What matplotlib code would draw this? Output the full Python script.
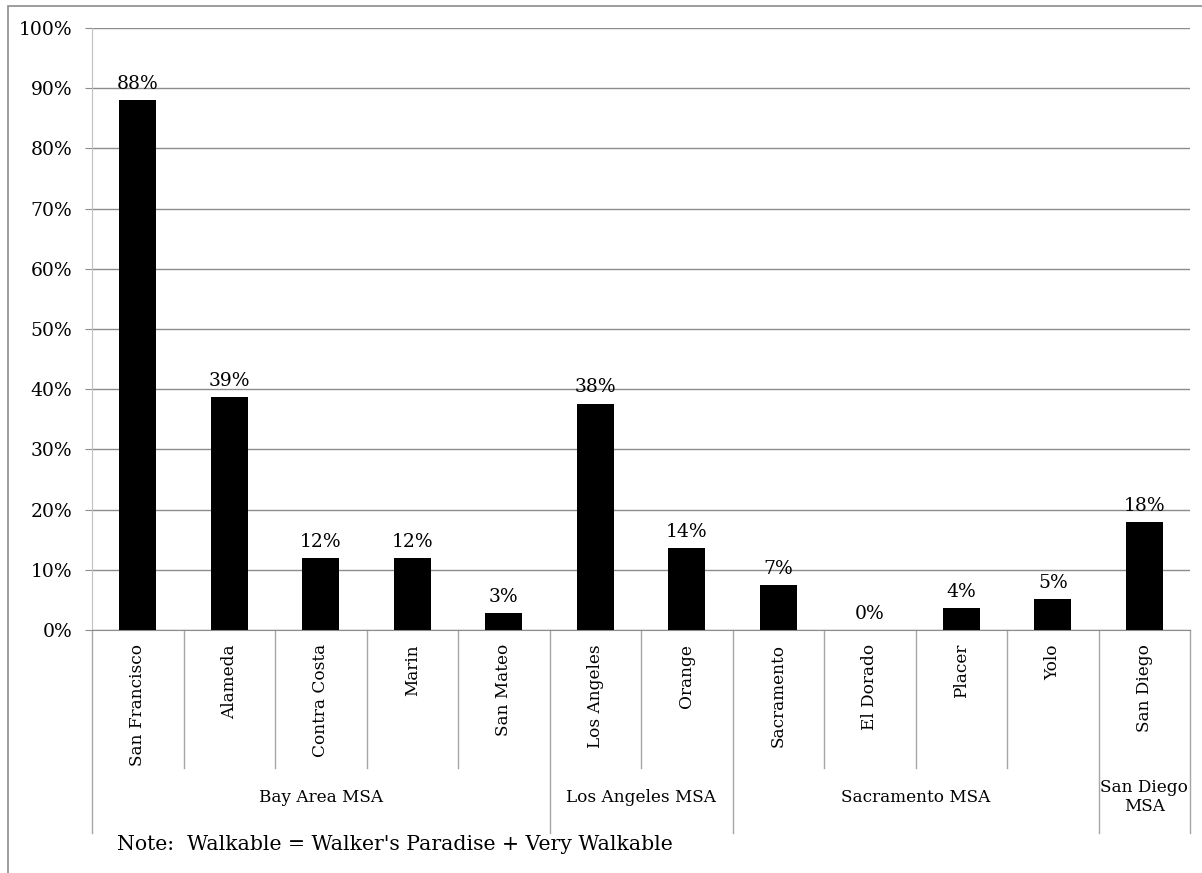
import numpy as np
import matplotlib
matplotlib.use('Agg')
import matplotlib.pyplot as plt
from matplotlib.patches import Rectangle

# 数据
counties = ['San Francisco', 'Alameda', 'Contra Costa', 'Marin', 'San Mateo',
            'Los Angeles', 'Orange', 'Sacramento', 'El Dorado', 'Placer',
            'Yolo', 'San Diego']
walkable_pct = [88.0, 38.7, 12.0, 11.9, 2.8, 37.6, 13.6, 7.4, 0.0, 3.7, 5.1, 17.9]
msa_names = ['Bay Area MSA', 'Los Angeles MSA', 'Sacramento MSA', 'San Diego\nMSA']
msa_sizes = [5, 2, 4, 1]
y_ticks = [0, 10, 20, 30, 40, 50, 60, 70, 80, 90, 100]
note_text = "Note:  Walkable = Walker's Paradise + Very Walkable"

plt.rcParams['font.family'] = ['DejaVu Serif']
W, H = 1202, 873
fig = plt.figure(figsize=(W / 100, H / 100), dpi=100)

# 外框
fig.patches.append(Rectangle((8 / W, -0.1), 1.2, 1 - 6 / H + 0.1,
                             transform=fig.transFigure, fill=False,
                             edgecolor='#8c8c8c', linewidth=1.2))

x0, x1 = 92, 1190
y0, y1 = 630, 28
ax = fig.add_axes([x0 / W, 1 - y0 / H, (x1 - x0) / W, (y0 - y1) / H])

x = np.arange(len(counties))
ax.bar(x, walkable_pct, width=0.4, color='black', zorder=3)
for xi, v in zip(x, walkable_pct):
    ax.text(xi, v + 1.2, f'{v:.0f}%', ha='center', va='bottom', fontsize=13.5)

ax.set_xlim(-0.5, len(counties) - 0.5)
ax.set_ylim(0, 100)
ax.set_yticks(y_ticks)
ax.set_yticklabels([f'{t}%' for t in y_ticks], fontsize=13.5)
ax.yaxis.grid(True, color='#8c8c8c', linewidth=1)
ax.set_axisbelow(True)
ax.tick_params(axis='y', length=5, color='#8c8c8c', pad=9)
ax.set_xticks([])
for s in ['top', 'right']:
    ax.spines[s].set_visible(False)
ax.spines['left'].set_color('#bfbfbf')
ax.spines['bottom'].set_color('#8c8c8c')

# 多级类别轴
ah = y0 - y1
lvl1 = -(768 - y0) / ah
lvl2 = -(833 - y0) / ah
tr = ax.get_xaxis_transform()
for i, name in enumerate(counties):
    ax.text(i, -(644 - y0) / ah, name, rotation=90, ha='center', va='top',
            fontsize=12.2, transform=tr)

group_edges = np.concatenate([[0], np.cumsum(msa_sizes)]) - 0.5
for b in np.arange(len(counties) + 1) - 0.5:
    bottom = lvl2 if b in group_edges else lvl1
    ax.plot([b, b], [0, bottom], color='#a6a6a6', linewidth=1,
            transform=tr, clip_on=False)

for name, a, b in zip(msa_names, group_edges[:-1], group_edges[1:]):
    ax.text((a + b) / 2, -(797 - y0) / ah, name, ha='center', va='center',
            fontsize=12.2, transform=tr, linespacing=1.1)

fig.text(117 / W, 1 - 845 / H, note_text, ha='left', va='center', fontsize=14.7)

plt.savefig('out.png', dpi=100)
